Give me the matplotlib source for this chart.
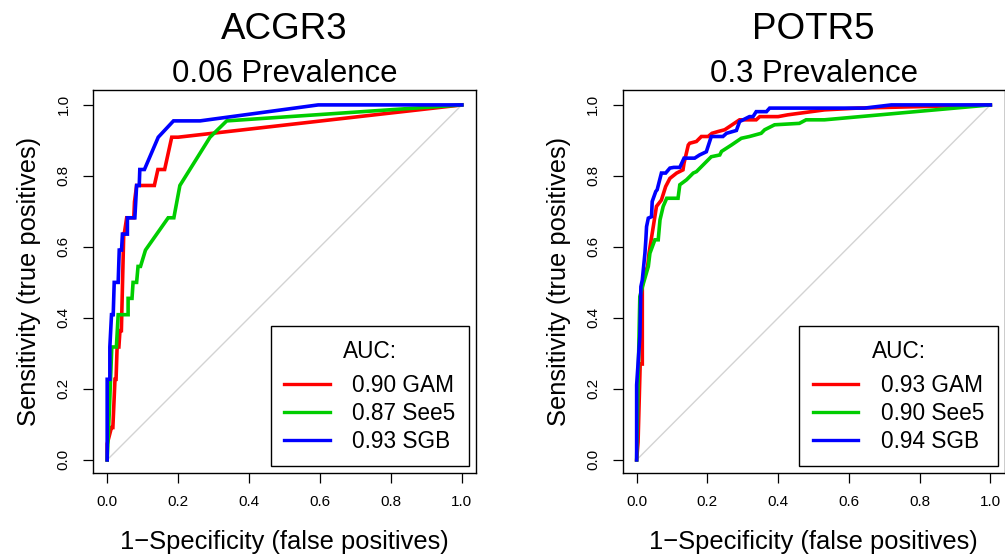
import matplotlib
matplotlib.use('Agg')
import matplotlib.pyplot as plt
from matplotlib.lines import Line2D

plt.rcParams['font.family'] = ['Liberation Sans', 'DejaVu Sans']

# ---------------- data ----------------
species = ['ACGR3', 'POTR5']
prevalence_labels = ['0.06 Prevalence', '0.3 Prevalence']
models = ['GAM', 'See5', 'SGB']
colors = ['#FF0000', '#00CD00', '#0000FF']
auc_acgr3 = [0.90, 0.87, 0.93]
auc_potr5 = [0.93, 0.90, 0.94]
tick_values = [0.0, 0.2, 0.4, 0.6, 0.8, 1.0]
tick_labels = ['0.0', '0.2', '0.4', '0.6', '0.8', '1.0']
chance_line = [0.0, 1.0]

# ACGR3 (22 presences)
acgr3_gam_fpr = [0, 0, 0.012, 0.016, 0.022, 0.025, 0.028, 0.033, 0.036, 0.040,
                 0.0466, 0.048, 0.055, 0.075, 0.077, 0.083, 0.133, 0.143, 0.162,
                 0.182, 0.20, 1.0]
acgr3_gam_tpr = [0, 0.045, 0.091, 0.091, 0.227, 0.227, 0.318, 0.318, 0.364, 0.364,
                 0.636, 0.636, 0.682, 0.682, 0.727, 0.773, 0.773, 0.818, 0.818,
                 0.909, 0.909, 1.0]
acgr3_see5_fpr = [0, 0.006, 0.013, 0.026, 0.031, 0.059, 0.059, 0.070, 0.073, 0.083,
                  0.087, 0.094, 0.108, 0.172, 0.188, 0.205, 0.290, 0.337, 1.0]
acgr3_see5_tpr = [0, 0.136, 0.318, 0.318, 0.409, 0.409, 0.455, 0.455, 0.500, 0.500,
                  0.545, 0.545, 0.591, 0.682, 0.682, 0.773, 0.909, 0.955, 1.0]
acgr3_sgb_fpr = [0, 0, 0.0075, 0.0075, 0.0122, 0.017, 0.0198, 0.031, 0.034, 0.0405,
                 0.043, 0.057, 0.057, 0.078, 0.083, 0.0904, 0.092, 0.105, 0.144,
                 0.187, 0.262, 0.595, 1.0]
acgr3_sgb_tpr = [0, 0.227, 0.227, 0.318, 0.409, 0.409, 0.500, 0.500, 0.591, 0.591,
                 0.636, 0.636, 0.682, 0.682, 0.773, 0.773, 0.818, 0.818, 0.909,
                 0.955, 0.955, 1.0, 1.0]

# POTR5
potr5_gam_fpr = [0, 0.004, 0.010, 0.016, 0.016, 0.023, 0.031, 0.035, 0.047, 0.056,
                 0.070, 0.082, 0.094, 0.113, 0.131, 0.134, 0.146, 0.150, 0.169,
                 0.183, 0.202, 0.213, 0.230, 0.249, 0.291, 0.338, 0.348, 0.400,
                 0.427, 0.531, 0.625, 1.0]
potr5_gam_tpr = [0, 0.05, 0.27, 0.27, 0.49, 0.525, 0.545, 0.582, 0.657, 0.714,
                 0.732, 0.770, 0.793, 0.808, 0.817, 0.836, 0.887, 0.892, 0.897,
                 0.911, 0.911, 0.920, 0.925, 0.930, 0.958, 0.958, 0.967, 0.967,
                 0.972, 0.986, 0.991, 1.0]
potr5_see5_fpr = [0, 0.004, 0.009, 0.019, 0.033, 0.0375, 0.0516, 0.061, 0.066, 0.075,
                  0.085, 0.117, 0.122, 0.141, 0.160, 0.169, 0.183, 0.197, 0.211,
                  0.235, 0.240, 0.268, 0.296, 0.319, 0.352, 0.362, 0.390, 0.460,
                  0.479, 0.531, 1.0]
potr5_see5_tpr = [0, 0.216, 0.46, 0.497, 0.545, 0.582, 0.620, 0.620, 0.676, 0.714,
                  0.737, 0.737, 0.775, 0.789, 0.808, 0.812, 0.826, 0.840, 0.854,
                  0.859, 0.869, 0.887, 0.906, 0.911, 0.920, 0.930, 0.944, 0.948,
                  0.958, 0.958, 1.0]
potr5_sgb_fpr = [0, 0, 0.009, 0.012, 0.016, 0.0234, 0.026, 0.028, 0.033, 0.042,
                 0.044, 0.054, 0.058, 0.070, 0.082, 0.094, 0.105, 0.122, 0.134,
                 0.164, 0.178, 0.197, 0.211, 0.244, 0.254, 0.282, 0.291, 0.319,
                 0.329, 0.338, 0.367, 0.376, 0.644, 0.720, 1.0]
potr5_sgb_tpr = [0, 0.211, 0.347, 0.488, 0.507, 0.582, 0.620, 0.657, 0.681, 0.685,
                 0.728, 0.756, 0.761, 0.808, 0.808, 0.822, 0.824, 0.824, 0.850,
                 0.850, 0.859, 0.868, 0.911, 0.911, 0.920, 0.928, 0.953, 0.967,
                 0.967, 0.981, 0.981, 0.991, 0.991, 1.0, 1.0]

panels = [
    (species[0], prevalence_labels[0], auc_acgr3,
     [(acgr3_gam_fpr, acgr3_gam_tpr), (acgr3_see5_fpr, acgr3_see5_tpr),
      (acgr3_sgb_fpr, acgr3_sgb_tpr)]),
    (species[1], prevalence_labels[1], auc_potr5,
     [(potr5_gam_fpr, potr5_gam_tpr), (potr5_see5_fpr, potr5_see5_tpr),
      (potr5_sgb_fpr, potr5_sgb_tpr)]),
]

# ---------------- figure ----------------
W, H = 1005, 558
fig = plt.figure(figsize=(W / 100, H / 100), dpi=100)
axes_px = [(93, 90, 383, 383), (622.5, 90, 382, 383)]

for (name, prev, aucs, curves), (lx, ty, w, h) in zip(panels, axes_px):
    ax = fig.add_axes([lx / W, 1 - (ty + h) / H, w / W, h / H])
    ax.plot(chance_line, chance_line, color='#D3D3D3', lw=1.0, zorder=1)
    handles = []
    for (fpr, tpr), col in zip(curves, colors):
        ax.plot(fpr, tpr, color=col, lw=2.6, solid_joinstyle='miter', zorder=2)
        handles.append(Line2D([], [], color=col, lw=2.4))
    ax.set_xlim(-0.04, 1.04)
    ax.set_ylim(-0.037, 1.042)
    ax.set_xticks(tick_values)
    ax.set_xticklabels(tick_labels)
    ax.set_yticks(tick_values)
    ax.set_yticklabels(tick_labels, rotation=90, va='center')
    ax.tick_params(direction='out', length=7, width=0.9, labelsize=11, pad=9,
                   color='black')
    for s in ax.spines.values():
        s.set_linewidth(1.0)
    ax.set_xlabel('1\u2212Specificity (false positives)', fontsize=18.4, va='baseline')
    ax.xaxis.set_label_coords(0.5, (473 - 549) / 383)
    ax.set_ylabel('Sensitivity (true positives)', fontsize=18.4, va='baseline')
    ax.yaxis.set_label_coords((36 - 93) / 383, 0.5)

    labels = [f'{a:.2f} {m}' for a, m in zip(aucs, models)]
    leg = ax.legend(handles, labels, title='AUC:', loc='lower right',
                    fontsize=16.3, title_fontsize=16.3, frameon=True,
                    fancybox=False, edgecolor='black', framealpha=1,
                    borderaxespad=0.3, handlelength=2.0, handletextpad=1.0,
                    borderpad=0.6, labelspacing=0.21)
    leg.get_frame().set_linewidth(1.0)
    leg._legend_box.sep = 8.0

    cx = (lx + w / 2) / W
    fig.text(cx, 1 - 39 / H, name, ha='center', va='baseline', fontsize=26.5)
    fig.text(cx, 1 - 82 / H, prev, ha='center', va='baseline', fontsize=22.4)

fig.savefig('out.png', dpi=100)
